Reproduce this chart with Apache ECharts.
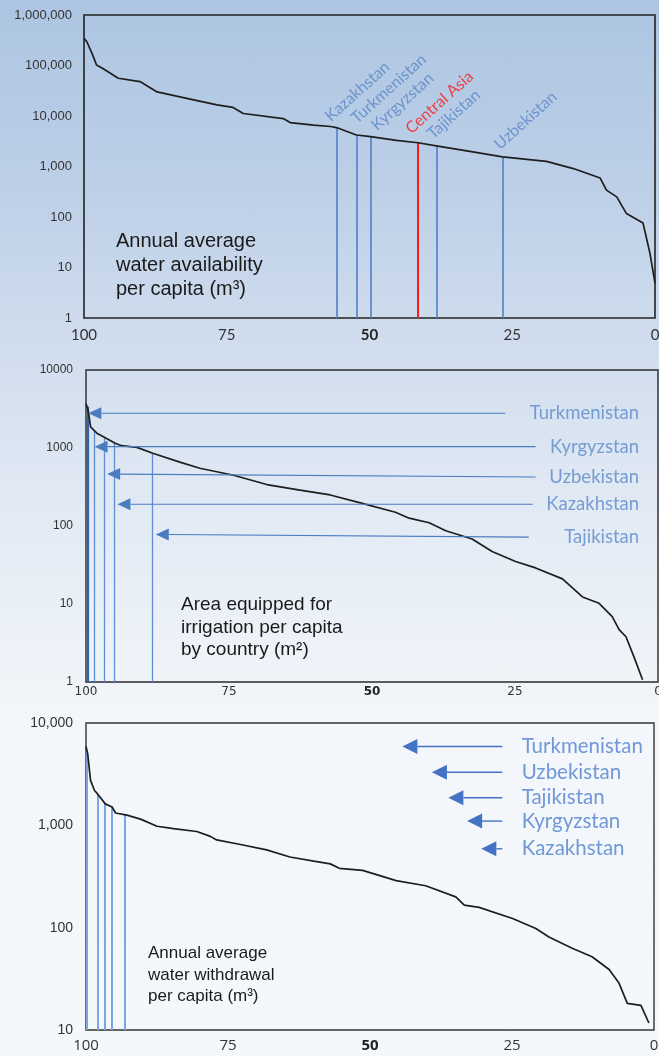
<!DOCTYPE html>
<html>
<head>
<meta charset="utf-8">
<script src="https://cdn.jsdelivr.net/npm/echarts@6/dist/echarts.min.js"></script>
<style>
  html, body { margin: 0; padding: 0; }
  body {
    width: 659px; height: 1056px; overflow: hidden;
    background: linear-gradient(180deg, #adc5e2 0px, #bccfe7 180px, #d0ddee 340px, #dfe8f3 480px, #edf2f8 640px, #f3f6fa 720px, #f5f8fb 1056px);
  }
  #chart { width: 659px; height: 1056px; }
</style>
</head>
<body>
<div id="chart"></div>
<script>
// ---- Panel 1: annual average water availability per capita (m3), countries ranked by percentile
const availPct = [100, 99.5, 98.6, 97.8, 96.7, 94.0, 90.2, 87.2, 82.0, 76.7, 73.9, 72.1, 65.1, 63.9, 59.8, 56.8, 55.8, 52.3, 49.8, 45.3, 41.5, 38.3, 31.9, 26.7, 19.0, 14.3, 9.6, 8.5, 6.7, 5.0, 2.1, 0.9, 0];
const availVal = [347000, 295000, 174000, 102000, 87000, 56000, 48000, 30000, 22400, 16600, 14800, 11200, 8900, 7400, 6600, 6200, 5900, 4200, 3900, 3300, 2950, 2570, 1950, 1550, 1260, 910, 590, 340, 250, 117, 76, 19.5, 4.9];
const availNames = ['Kazakhstan', 'Turkmenistan', 'Kyrgyzstan', 'Central Asia', 'Tajikistan', 'Uzbekistan'];
const availMarkPct = [55.8, 52.3, 49.8, 41.5, 38.3, 26.7];
const availMarkVal = [5900, 4200, 3900, 2950, 2570, 1550];

// ---- Panel 2: area equipped for irrigation per capita (m2)
const irrPct = [100, 99.6, 99.2, 98.1, 96.4, 94.9, 93.8, 91.1, 88.2, 83.6, 80.1, 74.2, 68.4, 62.6, 57.3, 51.7, 45.9, 43.5, 40.0, 37.1, 32.5, 29.0, 24.9, 21.4, 16.7, 13.2, 10.3, 8.0, 6.8, 5.6, 4.2, 2.7];
const irrVal = [3730, 2950, 1860, 1550, 1320, 1150, 1070, 1020, 850, 660, 550, 447, 340, 288, 250, 195, 150, 126, 110, 87, 68, 47, 35, 29, 21, 12.3, 10.2, 6.9, 4.7, 3.8, 2.1, 1.07];
const irrNames = ['Turkmenistan', 'Kyrgyzstan', 'Uzbekistan', 'Kazakhstan', 'Tajikistan'];
const irrMarkPct = [99.7, 98.6, 96.8, 95.1, 88.4];
const irrMarkVal = [3400, 1650, 1380, 1170, 860];
const irrArrowTailPct = [26.7, 21.4, 21.4, 21.9, 22.6];
const irrArrowTailVal = [2790, 1040, 425, 190, 72];
const irrArrowTipPct = [99.6, 98.5, 96.3, 94.5, 87.8];
const irrArrowTipVal = [2790, 1040, 464, 190, 78];
const irrLabelPct = 3.3;

// ---- Panel 3: annual average water withdrawal per capita (m3)
const wdPct = [100, 99.7, 99.2, 98.5, 98.0, 96.6, 95.4, 94.8, 92.8, 90.4, 87.5, 84.6, 80.5, 78.1, 77.0, 72.8, 68.2, 64.1, 59.9, 57.0, 55.4, 51.3, 45.4, 40.2, 34.9, 33.4, 30.8, 24.9, 20.8, 18.5, 14.4, 10.9, 7.9, 6.2, 4.7, 2.3, 0.9];
const wdVal = [5900, 5000, 2750, 2190, 2040, 1620, 1510, 1320, 1260, 1150, 980, 930, 870, 780, 720, 650, 575, 490, 447, 420, 380, 363, 288, 257, 200, 166, 158, 123, 98, 81, 63, 52, 39, 29, 18.2, 17.4, 11.7];
const wdNames = ['Turkmenistan', 'Uzbekistan', 'Tajikistan', 'Kyrgyzstan', 'Kazakhstan'];
const wdMarkPct = [99.8, 98.0, 96.7, 95.5, 93.1];
const wdMarkVal = [5300, 2000, 1660, 1520, 1260];
const wdArrowTailPct = [26.7, 26.7, 26.7, 26.7, 26.7];
const wdArrowTipPct = [44.3, 39.1, 36.2, 32.9, 30.4];
const wdArrowVal = [5900, 3300, 1860, 1100, 590];
const wdLabelPct = 23.3;

const pctTicks = [100, 75, 50, 25, 0];

const zip = (xs, ys) => xs.map((x, i) => [x, ys[i]]);
const withCommas = v => Number(v).toLocaleString('en-US');

function pctAxis(gi, font, margin) {
  return {
    type: 'value', gridIndex: gi, inverse: true, min: 0, max: 100, interval: 25,
    axisLine: { show: false }, axisTick: { show: false }, splitLine: { show: false },
    axisLabel: {
      margin: margin, color: '#333', fontFamily: font.family, fontSize: font.size,
      formatter: v => (pctTicks.indexOf(v) < 0 ? '' : (v === 50 ? '{b|50}' : String(v))),
      rich: { b: { fontWeight: 'bold', fontFamily: font.family, fontSize: font.size, color: '#222' } }
    }
  };
}

function logAxis(gi, min, max, fmt, font, margin) {
  return {
    type: 'log', logBase: 10, gridIndex: gi, min: min, max: max,
    axisLine: { show: false }, axisTick: { show: false }, splitLine: { show: false },
    axisLabel: { margin: margin, color: '#333', fontFamily: font.family, fontSize: font.size, formatter: fmt }
  };
}

function dropLines(pcts, vals, base, styleFor) {
  return pcts.map((p, i) => [
    { coord: [p, base], lineStyle: styleFor(i) },
    { coord: [p, vals[i]] }
  ]);
}

// arrow: shaft from tail to head base, filled triangular head ending at the tip
function arrowRenderer(headLen, headW, color, lw) {
  return function (params, api) {
    const a = api.coord([api.value(0), api.value(1)]);
    const b = api.coord([api.value(2), api.value(3)]);
    const dx = b[0] - a[0], dy = b[1] - a[1];
    const L = Math.hypot(dx, dy) || 1;
    const ux = dx / L, uy = dy / L, nx = -uy, ny = ux;
    const bx = b[0] - ux * headLen, by = b[1] - uy * headLen;
    return {
      type: 'group',
      children: [
        { type: 'line', shape: { x1: a[0], y1: a[1], x2: bx, y2: by }, style: { stroke: color, lineWidth: lw } },
        { type: 'polygon', shape: { points: [[b[0], b[1]], [bx + nx * headW / 2, by + ny * headW / 2], [bx - nx * headW / 2, by - ny * headW / 2]] }, style: { fill: color } }
      ]
    };
  };
}

// nudges (in the rotated text frame) for the slanted country names so they don't collide
const slantNudge = {
  'Kazakhstan': [-1, -4], 'Turkmenistan': [7, -4], 'Kyrgyzstan': [8, 4],
  'Central Asia': [0, -7], 'Tajikistan': [1, -3], 'Uzbekistan': [2, -3]
};

const curveStyle = { color: '#1e1e1e', width: 1.7 };
const gridBase = { show: true, backgroundColor: 'transparent', outerBoundsMode: 'none', containLabel: false };

const option = {
  backgroundColor: 'transparent',
  animation: false,
  grid: [
    Object.assign({ left: 84, top: 15, right: 4, height: 303, borderColor: '#222', borderWidth: 1.6 }, gridBase),
    Object.assign({ left: 86, top: 370, right: 1, height: 312, borderColor: '#2a2a2a', borderWidth: 1.4 }, gridBase),
    Object.assign({ left: 86, top: 723, right: 5, height: 307, borderColor: '#333', borderWidth: 1.4 }, gridBase)
  ],
  xAxis: [
    pctAxis(0, { family: 'Lato', size: 15 }, 10),
    pctAxis(1, { family: 'DejaVu Sans', size: 12 }, 4),
    pctAxis(2, { family: 'Open Sans', size: 15 }, 8)
  ],
  yAxis: [
    logAxis(0, 1, 1000000, withCommas, { family: 'Liberation Sans', size: 13 }, 12),
    logAxis(1, 1, 10000, v => String(v), { family: 'Liberation Sans', size: 12 }, 13),
    logAxis(2, 10, 10000, withCommas, { family: 'Liberation Sans', size: 14 }, 13)
  ],
  series: [
    // Panel 1 curve with drop lines for the region's countries
    {
      type: 'line', xAxisIndex: 0, yAxisIndex: 0, data: zip(availPct, availVal),
      symbol: 'none', lineStyle: curveStyle, z: 3,
      markLine: {
        silent: true, symbol: ['none', 'none'], label: { show: false }, z: 2,
        data: dropLines(availMarkPct, availMarkVal, 1, i => availNames[i] === 'Central Asia'
          ? { color: '#ff1a1a', width: 2, type: 'solid' }
          : { color: '#4f80c6', width: 1.6, type: 'solid' })
      }
    },
    {
      type: 'scatter', xAxisIndex: 0, yAxisIndex: 0, symbolSize: 0, z: 4,
      data: availNames.map((n, i) => ({
        name: n, value: [availMarkPct[i], availMarkVal[i]],
        label: Object.assign({ offset: slantNudge[n] }, n === 'Central Asia' ? { color: '#ff1a1a' } : {})
      })),
      label: {
        show: true, position: 'top', distance: 1, rotate: 42, align: 'left', verticalAlign: 'bottom',
        formatter: '{b}', color: '#5a86c6', fontFamily: 'Lato', fontSize: 16
      }
    },

    // Panel 2 curve, drop lines, arrows and country labels
    {
      type: 'line', xAxisIndex: 1, yAxisIndex: 1, data: zip(irrPct, irrVal),
      symbol: 'none', lineStyle: curveStyle, z: 3,
      markLine: {
        silent: true, symbol: ['none', 'none'], label: { show: false }, z: 2,
        data: dropLines(irrMarkPct, irrMarkVal, 1, i => i === 0
          ? { color: '#2f62b0', width: 2.2, type: 'solid' }
          : { color: '#5d8fd6', width: 1.3, type: 'solid' })
      }
    },
    {
      type: 'custom', xAxisIndex: 1, yAxisIndex: 1, z: 4,
      renderItem: arrowRenderer(13, 12, '#4a7cc0', 1.2),
      encode: { x: [0, 2], y: [1, 3] },
      data: irrNames.map((n, i) => [irrArrowTailPct[i], irrArrowTailVal[i], irrArrowTipPct[i], irrArrowTipVal[i]])
    },
    {
      type: 'scatter', xAxisIndex: 1, yAxisIndex: 1, symbolSize: 0, z: 4,
      data: irrNames.map((n, i) => ({ name: n, value: [irrLabelPct, irrArrowTailVal[i]] })),
      label: {
        show: true, position: 'left', distance: 0, formatter: '{b}',
        color: '#5b8acb', fontFamily: 'Lato', fontSize: 18.5
      }
    },

    // Panel 3 curve, drop lines, arrows and country labels
    {
      type: 'line', xAxisIndex: 2, yAxisIndex: 2, data: zip(wdPct, wdVal),
      symbol: 'none', lineStyle: curveStyle, z: 3,
      markLine: {
        silent: true, symbol: ['none', 'none'], label: { show: false }, z: 2,
        data: dropLines(wdMarkPct, wdMarkVal, 10, () => ({ color: '#7da5e6', width: 2, type: 'solid' }))
      }
    },
    {
      type: 'custom', xAxisIndex: 2, yAxisIndex: 2, z: 4,
      renderItem: arrowRenderer(15, 15, '#4472c4', 1.4),
      encode: { x: [0, 2], y: [1, 3] },
      data: wdNames.map((n, i) => [wdArrowTailPct[i], wdArrowVal[i], wdArrowTipPct[i], wdArrowVal[i]])
    },
    {
      type: 'scatter', xAxisIndex: 2, yAxisIndex: 2, symbolSize: 0, z: 4,
      data: wdNames.map((n, i) => ({ name: n, value: [wdLabelPct, wdArrowVal[i]] })),
      label: {
        show: true, position: 'right', distance: 0, formatter: '{b}',
        color: '#4f7fcf', fontFamily: 'Lato', fontSize: 20.5
      }
    }
  ],
  graphic: [
    {
      type: 'text', left: 116, top: 229, z: 10,
      style: { text: 'Annual average\nwater availability\nper capita (m³)', font: '20px "Liberation Sans"', fill: '#1a1a1a', lineHeight: 24 }
    },
    {
      type: 'text', left: 181, top: 594, z: 10,
      style: { text: 'Area equipped for\nirrigation per capita\nby country (m²)', font: '19px "Liberation Sans"', fill: '#1a1a1a', lineHeight: 22.5 }
    },
    {
      type: 'text', left: 148, top: 943, z: 10,
      style: { text: 'Annual average\nwater withdrawal\nper capita (m³)', font: '17px "Liberation Sans"', fill: '#1a1a1a', lineHeight: 21.3 }
    }
  ]
};

const chart = echarts.init(document.getElementById('chart'), null, { renderer: 'canvas' });
chart.setOption(option);
</script>
</body>
</html>
